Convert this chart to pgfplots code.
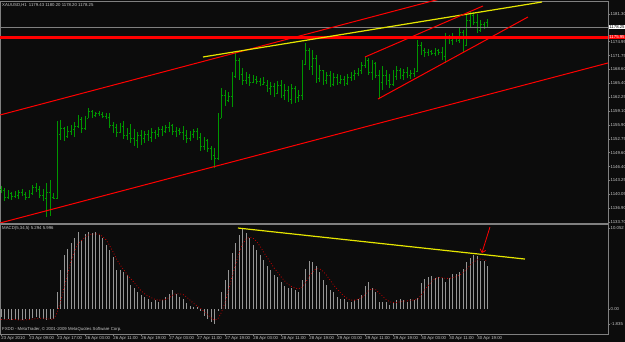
\documentclass[border=0pt]{standalone}
\usepackage{fontspec}
\setmainfont{Liberation Sans}
\usepackage{pgfplots}
\usepackage{pgfplotstable}
\pgfplotsset{compat=1.18}
\usetikzlibrary{arrows.meta}
\definecolor{bg}{RGB}{12,12,12}
\definecolor{frame}{RGB}{128,128,128}
\definecolor{bargreen}{RGB}{0,150,0}
\definecolor{lbl}{RGB}{200,200,200}
\definecolor{histgray}{RGB}{150,150,150}
\definecolor{sig}{RGB}{200,0,0}
\definecolor{ylw}{RGB}{230,230,0}
\pgfdeclareplotmark{ctick}{\pgfpathmoveto{\pgfpointorigin}\pgfpathlineto{\pgfpoint{1.4pt}{0pt}}\pgfusepathqstroke}
\pgfdeclareplotmark{otick}{\pgfpathmoveto{\pgfpointorigin}\pgfpathlineto{\pgfpoint{-1.4pt}{0pt}}\pgfusepathqstroke}
\newcommand{\tf}{\fontsize{4.3}{5}\selectfont}

\pgfplotstableread{
x o h l c
0 1141.26 1141.94 1140.34 1141.03
1 1141.03 1141.49 1138.51 1139.43
2 1139.43 1141.03 1138.97 1140.34
3 1140.34 1140.57 1138.74 1139.66
4 1139.66 1140.80 1139.20 1139.88
5 1139.88 1141.03 1138.97 1140.57
6 1140.57 1141.26 1139.66 1140.11
7 1140.11 1140.57 1138.74 1139.43
8 1139.43 1141.03 1139.20 1140.34
9 1140.34 1142.17 1139.88 1141.71
10 1141.71 1142.63 1140.57 1141.26
11 1141.26 1141.94 1139.20 1139.88
12 1139.88 1141.26 1138.51 1139.20
13 1139.20 1142.63 1134.85 1140.57
14 1140.57 1143.32 1135.08 1139.43
15 1139.43 1140.34 1138.97 1139.20
16 1139.20 1156.82 1138.97 1153.84
17 1153.84 1157.04 1152.47 1155.21
18 1155.21 1155.44 1152.24 1153.38
19 1153.38 1155.67 1152.93 1154.53
20 1154.53 1155.90 1153.61 1154.99
21 1154.99 1156.59 1153.15 1155.67
22 1155.67 1158.19 1155.21 1157.27
23 1157.27 1157.73 1154.07 1155.21
24 1155.21 1157.96 1154.76 1157.50
25 1157.50 1159.79 1157.50 1159.10
26 1159.10 1159.33 1157.50 1158.19
27 1158.19 1158.87 1157.73 1158.65
28 1158.65 1159.10 1157.96 1158.42
29 1158.42 1158.87 1157.50 1157.96
30 1157.96 1158.65 1157.27 1157.73
31 1157.73 1158.65 1155.21 1155.90
32 1155.90 1156.59 1154.07 1155.44
33 1155.44 1156.13 1153.15 1154.30
34 1154.30 1156.36 1154.07 1155.67
35 1155.67 1156.82 1152.70 1153.61
36 1153.61 1155.21 1152.47 1154.07
37 1154.07 1156.13 1151.78 1152.93
38 1152.93 1154.99 1151.10 1152.47
39 1152.47 1154.30 1150.64 1153.61
40 1153.61 1154.76 1151.32 1152.93
41 1152.93 1154.53 1151.78 1153.84
42 1153.84 1154.76 1152.24 1153.15
43 1153.15 1155.21 1152.01 1154.30
44 1154.30 1154.76 1152.70 1153.84
45 1153.84 1155.44 1153.15 1154.99
46 1154.99 1155.67 1153.38 1154.53
47 1154.53 1155.90 1154.07 1155.44
48 1155.44 1156.59 1154.30 1155.90
49 1155.90 1156.13 1153.61 1154.53
50 1154.53 1155.44 1153.15 1154.76
51 1154.76 1155.21 1153.61 1154.30
52 1154.30 1155.67 1152.47 1153.61
53 1153.61 1154.76 1151.78 1152.93
54 1152.93 1154.53 1152.24 1153.84
55 1153.84 1154.99 1152.93 1154.53
56 1154.53 1155.21 1152.47 1153.15
57 1153.15 1154.07 1149.95 1151.10
58 1151.10 1153.15 1150.18 1152.47
59 1152.47 1152.70 1149.72 1150.64
60 1150.64 1151.10 1147.89 1149.04
61 1149.04 1150.64 1146.06 1148.35
62 1148.35 1158.65 1147.89 1157.50
63 1157.50 1164.37 1157.50 1162.76
64 1162.76 1163.91 1160.25 1161.62
65 1161.62 1163.45 1161.16 1162.54
66 1162.54 1168.03 1160.02 1167.11
67 1167.11 1172.37 1166.65 1170.77
68 1170.77 1171.23 1166.20 1167.57
69 1167.57 1168.94 1165.05 1166.20
70 1166.20 1168.03 1165.28 1166.88
71 1166.88 1167.57 1164.82 1165.74
72 1165.74 1167.34 1165.51 1166.42
73 1166.42 1167.11 1165.28 1165.97
74 1165.97 1166.65 1164.82 1165.28
75 1165.28 1166.88 1165.05 1165.74
76 1165.05 1166.20 1163.45 1164.37
77 1164.37 1165.74 1162.76 1164.82
78 1164.82 1165.51 1162.31 1163.22
79 1163.22 1165.97 1162.99 1165.05
80 1165.05 1166.20 1162.08 1162.76
81 1162.76 1165.28 1161.62 1163.91
82 1163.91 1164.82 1161.16 1161.85
83 1161.85 1165.28 1160.71 1164.37
84 1164.37 1164.82 1160.93 1162.31
85 1162.31 1163.91 1161.16 1162.76
86 1162.76 1170.77 1161.62 1169.86
87 1169.86 1174.66 1169.63 1173.06
88 1173.06 1173.52 1168.48 1169.40
89 1169.40 1173.06 1167.34 1171.23
90 1171.23 1171.92 1165.51 1166.65
91 1166.65 1169.63 1165.74 1168.48
92 1168.48 1168.48 1165.05 1166.20
93 1166.20 1168.03 1165.28 1167.34
94 1167.34 1168.26 1164.59 1165.28
95 1165.28 1167.80 1164.82 1166.88
96 1166.88 1167.57 1165.05 1165.74
97 1165.74 1167.34 1165.28 1166.42
98 1166.42 1167.11 1164.82 1165.51
99 1165.51 1167.57 1165.05 1166.88
100 1166.88 1168.03 1165.97 1167.34
101 1167.34 1168.48 1166.20 1167.80
102 1167.80 1168.94 1167.11 1168.48
103 1168.48 1170.31 1167.57 1169.63
104 1169.63 1171.46 1168.94 1170.77
105 1170.77 1171.23 1167.34 1168.03
106 1168.03 1170.77 1166.20 1170.09
107 1170.09 1170.31 1166.65 1167.34
108 1167.34 1168.48 1161.85 1165.74
109 1165.74 1169.40 1163.91 1167.34
110 1167.34 1168.48 1165.05 1166.20
111 1166.20 1167.57 1164.37 1165.28
112 1165.28 1168.48 1164.82 1167.11
113 1167.11 1169.40 1166.20 1168.48
114 1168.48 1168.94 1166.42 1167.34
115 1167.34 1168.71 1166.20 1168.03
116 1168.03 1169.17 1166.65 1167.34
117 1167.34 1168.48 1166.42 1167.80
118 1167.80 1168.94 1166.88 1168.26
119 1168.26 1175.35 1168.03 1174.20
120 1174.20 1174.89 1171.92 1173.06
121 1173.06 1173.52 1171.46 1172.60
122 1172.60 1173.29 1171.69 1172.83
123 1172.83 1173.06 1171.92 1172.37
124 1172.37 1173.52 1171.69 1173.06
125 1173.06 1173.29 1171.92 1172.60
126 1172.60 1173.75 1170.77 1171.69
127 1171.69 1176.95 1170.09 1175.81
128 1175.81 1176.49 1174.43 1175.35
129 1175.35 1176.95 1174.20 1176.26
130 1176.26 1176.26 1174.89 1175.35
131 1175.35 1178.09 1174.66 1177.18
132 1177.18 1177.64 1172.60 1174.20
133 1174.20 1181.07 1173.98 1179.92
134 1179.92 1181.75 1178.32 1181.07
135 1181.07 1181.75 1178.78 1179.47
136 1179.47 1181.30 1176.95 1177.64
137 1177.64 1179.92 1177.18 1179.01
138 1179.01 1179.47 1177.87 1179.43
139 1179.43 1180.20 1178.20 1178.25
}\ohlc

\pgfplotstableread{
x m s
0 -0.95 -1.30
1 -1.20 -1.30
2 -1.30 -1.30
3 -1.35 -1.30
4 -1.30 -1.30
5 -1.35 -1.35
6 -1.40 -1.35
7 -1.30 -1.35
8 -1.25 -1.30
9 -1.10 -1.25
10 -1.00 -1.20
11 -1.10 -1.15
12 -1.30 -1.15
13 -1.35 -1.20
14 -1.30 -1.25
15 -1.25 -1.30
16 2.10 -0.50
17 4.80 0.90
18 6.70 2.60
19 7.50 4.30
20 8.20 5.90
21 8.80 7.20
22 9.50 8.10
23 8.60 8.50
24 9.30 8.90
25 9.60 9.20
26 9.40 9.30
27 9.50 9.30
28 9.20 9.30
29 8.80 9.00
30 7.90 8.60
31 7.30 7.90
32 6.50 7.10
33 4.80 6.20
34 4.80 5.50
35 4.60 4.90
36 4.20 4.30
37 3.00 3.80
38 2.60 3.30
39 2.10 2.80
40 1.70 2.30
41 1.50 1.90
42 1.30 1.60
43 0.90 1.40
44 1.10 1.20
45 0.90 1.10
46 1.10 1.10
47 1.50 1.20
48 1.90 1.40
49 2.30 1.70
50 1.90 1.90
51 1.50 1.90
52 1.30 1.80
53 0.70 1.50
54 0.40 1.10
55 0.30 0.70
56 0.20 0.40
57 -0.30 0.10
58 -0.90 -0.30
59 -1.20 -0.70
60 -1.60 -1.10
61 -1.835 -1.40
62 -0.20 -1.20
63 2.10 -0.40
64 3.60 0.80
65 4.80 2.30
66 7.00 4.00
67 8.20 5.50
68 9.20 6.90
69 10.00 8.00
70 9.40 8.70
71 8.80 8.90
72 7.90 8.80
73 7.30 8.40
74 6.70 7.80
75 6.10 7.10
76 5.30 6.40
77 4.80 5.80
78 4.20 5.10
79 4.00 4.60
80 3.40 4.00
81 2.80 3.50
82 2.60 3.10
83 2.60 2.80
84 2.30 2.60
85 2.10 2.50
86 3.60 2.70
87 5.00 3.30
88 6.00 4.00
89 5.80 4.60
90 5.30 5.00
91 4.60 5.00
92 3.60 4.70
93 3.00 4.20
94 2.30 3.60
95 2.10 3.00
96 1.50 2.50
97 1.30 2.00
98 1.30 1.60
99 0.90 1.30
100 0.90 1.10
101 1.10 1.10
102 1.30 1.20
103 1.70 1.40
104 2.80 1.80
105 3.30 2.30
106 2.60 2.50
107 2.10 2.40
108 0.90 2.00
109 0.90 1.60
110 0.90 1.20
111 0.50 0.90
112 0.70 0.80
113 1.10 0.80
114 1.30 0.90
115 1.10 1.00
116 0.90 1.00
117 1.20 1.10
118 1.10 1.10
119 1.40 1.20
120 3.20 1.70
121 3.70 2.30
122 4.00 2.90
123 4.10 3.40
124 3.80 3.80
125 4.00 3.90
126 3.80 3.90
127 3.30 3.80
128 3.80 3.80
129 4.30 3.90
130 4.30 4.00
131 4.60 4.20
132 5.00 4.50
133 5.80 4.90
134 6.30 5.40
135 6.70 5.80
136 6.60 6.10
137 6.00 6.20
138 6.00 6.10
139 5.294 5.996
}\macd

\begin{document}
\begin{tikzpicture}
\useasboundingbox (0pt,0pt) rectangle (625pt,342pt);
\fill[bg] (0pt,0pt) rectangle (625pt,342pt);
\begin{axis}[
  at={(0pt,119pt)}, anchor=south west, scale only axis,
  width=608pt, height=222pt,
  xmin=-0.286, xmax=173.43, ymin=1133.48, ymax=1184.27,
  clip mode=individual,
  axis line style={frame, line width=0.8pt},
  xtick=\empty,
  ytick={1133.70,1136.90,1140.05,1143.25,1146.40,1149.60,1152.75,1155.90,1159.10,1162.25,1165.40,1168.60,1171.75,1174.95,1181.30},
  yticklabels={1133.70,1136.90,1140.05,1143.25,1146.40,1149.60,1152.75,1155.90,1159.10,1162.25,1165.40,1168.60,1171.75,1174.95,1181.30},
  ytick pos=right, yticklabel pos=right,
  tick align=outside, major tick length=2pt,
  tick style={frame, line width=0.5pt},
  yticklabel style={font=\tf, color=lbl, anchor=west, inner sep=0.5pt, xshift=0pt},
]
\addplot[bargreen, only marks, mark=ctick, mark options={line width=0.7pt},
  error bars/.cd, y dir=both, y explicit, error mark=none,
  error bar style={line width=0.85pt, bargreen}]
  table[x=x, y=c, y error plus expr=\thisrow{h}-\thisrow{c}, y error minus expr=\thisrow{c}-\thisrow{l}] {\ohlc};
\addplot[bargreen, only marks, mark=otick, mark options={line width=0.7pt}] table[x=x, y=o] {\ohlc};
\addplot[frame, line width=0.8pt] coordinates {(-1,1178.25) (180,1178.25)};
\addplot[red, line width=3pt] coordinates {(-1,1175.95) (180,1175.95)};
\addplot[red, line width=1pt] coordinates {(-0.29,1158.19) (125.4,1184.73)};
\addplot[red, line width=1pt] coordinates {(-0.29,1133.48) (173.43,1170.09)};
\addplot[ylw, line width=1.2pt] coordinates {(57.71,1171.46) (154.57,1184.04)};
\addplot[red, line width=1pt] coordinates {(104,1171.46) (137.71,1183.13)};
\addplot[red, line width=1pt] coordinates {(107.71,1161.85) (150.57,1180.61)};
\node[fill=white, text=black, font=\tf, inner sep=0.6pt, anchor=west, xshift=0.6pt] at (axis cs:173.43,1178.25) {1178.25};
\node[fill=red, text=white, font=\tf, inner sep=0.6pt, anchor=west, xshift=0.6pt] at (axis cs:173.43,1175.95) {1175.95};
\node[font=\tf, color=lbl, anchor=north west, inner sep=0pt] at ([xshift=2pt,yshift=-2pt]rel axis cs:0,1) {XAUUSD,H1\enspace 1179.43 1180.20 1178.20 1178.25};
\end{axis}
\begin{axis}[
  at={(0pt,8pt)}, anchor=south west, scale only axis,
  width=608pt, height=110pt,
  xmin=-0.286, xmax=173.43, ymin=-3.10, ymax=10.55,
  clip mode=individual,
  axis line style={frame, line width=0.8pt},
  xtick={0,8,16,24,32,40,48,56,64,72,80,88,96,104,112,120,128,136},
  xticklabels={23 Apr 2010,23 Apr 09:00,23 Apr 17:00,26 Apr 03:00,26 Apr 11:00,26 Apr 19:00,27 Apr 03:00,27 Apr 11:00,27 Apr 19:00,28 Apr 03:00,28 Apr 11:00,28 Apr 19:00,29 Apr 03:00,29 Apr 11:00,29 Apr 19:00,30 Apr 03:00,30 Apr 11:00,30 Apr 19:00},
  xtick pos=bottom,
  xticklabel style={font=\tf, color=lbl, anchor=north west, inner sep=0pt, xshift=0.3pt, yshift=-0.5pt},
  ytick={-1.835,0,10.052},
  yticklabels={-1.835,0.00,10.052},
  ytick pos=right, yticklabel pos=right,
  tick align=outside, major tick length=2pt,
  tick style={frame, line width=0.5pt},
  yticklabel style={font=\tf, color=lbl, anchor=west, inner sep=0.5pt},
]
\addplot[ycomb, histgray, line width=0.75pt] table[x=x, y=m] {\macd};
\addplot[sig, dotted, line width=0.8pt] table[x=x, y=s] {\macd};
\addplot[ylw, line width=1.2pt] coordinates {(67.7,10.05) (149.7,6.20)};
\addplot[red, line width=0.8pt, -{Straight Barb[length=3pt,width=6pt]}] coordinates {(139.7,10.17) (137.4,6.95)};
\node[font=\tf, color=lbl, anchor=north west, inner sep=0pt] at ([xshift=2pt,yshift=-2pt]rel axis cs:0,1) {MACD(5,34,5) 5.294 5.996};
\node[font=\tf, color=lbl, anchor=south west, inner sep=0pt] at ([xshift=2pt,yshift=2pt]rel axis cs:0,0) {FXDD - MetaTrader, © 2001-2009 MetaQuotes Software Corp.};
\end{axis}
\end{tikzpicture}
\end{document}
